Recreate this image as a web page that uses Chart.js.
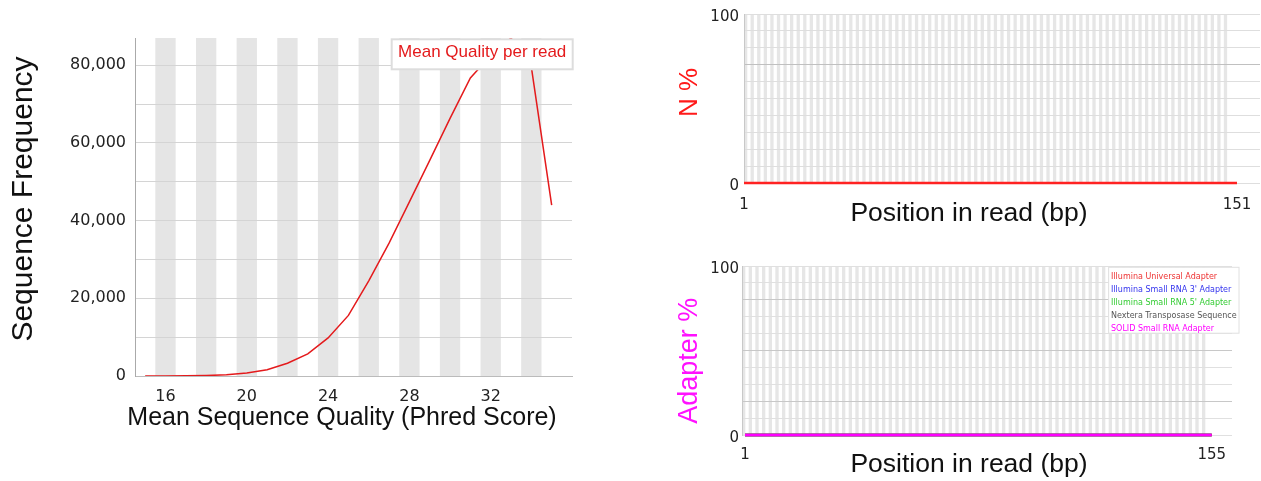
<!DOCTYPE html>
<html>
<head>
<meta charset="utf-8">
<title>Read quality</title>
<script src="https://cdn.jsdelivr.net/npm/chart.js@4.4.1/dist/chart.umd.min.js"></script>
<style>
  html, body { margin: 0; padding: 0; background: #fff; }
  body { width: 1261px; height: 481px; position: relative; overflow: hidden; }
  canvas { position: absolute; }
  #qualityChart { left: 0; top: 0; }
  #nChart { left: 640px; top: 0; }
  #adapterChart { left: 640px; top: 245px; }
</style>
</head>
<body>
<canvas id="qualityChart" width="600" height="440"></canvas>
<canvas id="nChart" width="621" height="240"></canvas>
<canvas id="adapterChart" width="621" height="236"></canvas>
<script>
// per sequence quality scores
var qualityScores = [15, 16, 17, 18, 19, 20, 21, 22, 23, 24, 25, 26, 27, 28, 29, 30, 31, 32, 33, 34, 35];
var qualityCounts = [0, 0, 50, 120, 300, 750, 1600, 3300, 5700, 9800, 15600, 24500, 34200, 44800, 55500, 66300, 76700, 82500, 87000, 79500, 44000];
var qualityTicks = [16, 20, 24, 28, 32];
var countTicks = [0, 10000, 20000, 30000, 40000, 50000, 60000, 70000, 80000];

// per base N content (151 bp reads)
var nPercent = [
  0, 0, 0, 0, 0, 0, 0, 0, 0, 0, 0, 0, 0, 0, 0, 0, 0, 0, 0, 0, 0, 0, 0, 0, 0,
  0, 0, 0, 0, 0, 0, 0, 0, 0, 0, 0, 0, 0, 0, 0, 0, 0, 0, 0, 0, 0, 0, 0, 0, 0,
  0, 0, 0, 0, 0, 0, 0, 0, 0, 0, 0, 0, 0, 0, 0, 0, 0, 0, 0, 0, 0, 0, 0, 0, 0,
  0, 0, 0, 0, 0, 0, 0, 0, 0, 0, 0, 0, 0, 0, 0, 0, 0, 0, 0, 0, 0, 0, 0, 0, 0,
  0, 0, 0, 0, 0, 0, 0, 0, 0, 0, 0, 0, 0, 0, 0, 0, 0, 0, 0, 0, 0, 0, 0, 0, 0,
  0, 0, 0, 0, 0, 0, 0, 0, 0, 0, 0, 0, 0, 0, 0, 0, 0, 0, 0, 0, 0, 0, 0, 0, 0,
  0
];
var nTicks = [1, 151];

// adapter content (155 positions), every adapter stays at 0 %
var adapterNames = ['Illumina Universal Adapter', "Illumina Small RNA 3' Adapter", "Illumina Small RNA 5' Adapter",
  'Nextera Transposase Sequence', 'SOLID Small RNA Adapter'];
var adapterPercent = [
  0, 0, 0, 0, 0, 0, 0, 0, 0, 0, 0, 0, 0, 0, 0, 0, 0, 0, 0, 0, 0, 0, 0, 0, 0,
  0, 0, 0, 0, 0, 0, 0, 0, 0, 0, 0, 0, 0, 0, 0, 0, 0, 0, 0, 0, 0, 0, 0, 0, 0,
  0, 0, 0, 0, 0, 0, 0, 0, 0, 0, 0, 0, 0, 0, 0, 0, 0, 0, 0, 0, 0, 0, 0, 0, 0,
  0, 0, 0, 0, 0, 0, 0, 0, 0, 0, 0, 0, 0, 0, 0, 0, 0, 0, 0, 0, 0, 0, 0, 0, 0,
  0, 0, 0, 0, 0, 0, 0, 0, 0, 0, 0, 0, 0, 0, 0, 0, 0, 0, 0, 0, 0, 0, 0, 0, 0,
  0, 0, 0, 0, 0, 0, 0, 0, 0, 0, 0, 0, 0, 0, 0, 0, 0, 0, 0, 0, 0, 0, 0, 0, 0,
  0, 0, 0, 0, 0
];
var adapterTicks = [1, 155];
var percentTicks = [0, 10, 20, 30, 40, 50, 60, 70, 80, 90, 100];
var percentLabels = [0, 100];

var adapterColors = ['#ee3333', '#3333ee', '#33cc33', '#555555', '#ff00ff'];
var sans = "'Liberation Sans', Arial, sans-serif";
var tickFamily = "'DejaVu Sans', Verdana, sans-serif";

// alternating grey bands behind the plot
function stripes(from, to, step, color) {
  return {
    id: 'stripes',
    beforeDraw: function(chart) {
      var ctx = chart.ctx, area = chart.chartArea, x = chart.scales.x;
      ctx.save();
      ctx.fillStyle = color;
      for (var v = from; v < to; v += step * 2) {
        var x0 = x.getPixelForValue(v), x1 = x.getPixelForValue(v + step);
        ctx.fillRect(x0, area.top, x1 - x0, area.bottom - area.top);
      }
      ctx.restore();
    }
  };
}

// white legend box in the top right corner of the plot
function boxLegend(o) {
  return {
    id: 'boxLegend',
    afterDatasetsDraw: function(chart) {
      var ctx = chart.ctx, area = chart.chartArea, sets = chart.data.datasets;
      ctx.save();
      ctx.font = o.size + 'px ' + o.family;
      var w = 0;
      sets.forEach(function(d) { w = Math.max(w, ctx.measureText(d.label).width); });
      var bw = w + o.padX * 2;
      var bh = o.first + (sets.length - 1) * o.lineHeight + o.last;
      var bx = area.right + o.right - bw, by = area.top + o.top;
      ctx.fillStyle = '#fff';
      ctx.fillRect(bx, by, bw, bh);
      ctx.strokeStyle = o.border;
      ctx.lineWidth = o.borderWidth;
      ctx.strokeRect(bx, by, bw, bh);
      ctx.textAlign = 'left';
      ctx.textBaseline = 'middle';
      sets.forEach(function(d, i) {
        ctx.fillStyle = d.borderColor;
        ctx.fillText(d.label, bx + o.padX, by + o.first + i * o.lineHeight);
      });
      ctx.restore();
    }
  };
}

// axis titles, placed like in the original figure
function titles(items) {
  return {
    id: 'titles',
    afterDraw: function(chart) {
      var ctx = chart.ctx;
      items.forEach(function(t) {
        ctx.save();
        ctx.translate(t.x, t.y);
        if (t.rotate) ctx.rotate(-Math.PI / 2);
        ctx.font = t.size + 'px ' + sans;
        ctx.fillStyle = t.color || '#111';
        ctx.textAlign = 'center';
        ctx.textBaseline = 'middle';
        ctx.fillText(t.text, 0, 0);
        ctx.restore();
      });
    }
  };
}

function fixedTicks(values) {
  return function(scale) {
    scale.ticks = values.map(function(v) { return { value: v }; });
  };
}

Chart.defaults.animation = false;
Chart.defaults.events = [];

new Chart(document.getElementById('qualityChart'), {
  type: 'line',
  data: {
    datasets: [{
      label: 'Mean Quality per read',
      data: qualityScores.map(function(s, i) { return { x: s, y: qualityCounts[i] }; }),
      borderColor: '#e41a1c',
      borderWidth: 1.5,
      pointRadius: 0,
      tension: 0
    }]
  },
  options: {
    responsive: false,
    layout: { padding: { top: 38, right: 28, left: 0, bottom: 0 } },
    plugins: { legend: { display: false }, tooltip: { enabled: false } },
    scales: {
      x: {
        type: 'linear', min: 14.5, max: 36,
        afterBuildTicks: fixedTicks(qualityTicks),
        afterFit: function(s) { s.height = 64; },
        grid: { display: false },
        border: { display: true, color: '#bbbbbb' },
        ticks: { font: { family: tickFamily, size: 16 }, color: '#222', padding: 3, maxRotation: 0 }
      },
      y: {
        min: 0, max: 87000,
        afterBuildTicks: fixedTicks(countTicks),
        afterFit: function(s) { s.width = 135; },
        grid: { color: '#d4d4d4', drawTicks: false },
        border: { color: '#aaaaaa' },
        ticks: {
          font: { family: tickFamily, size: 16 }, color: '#222', padding: 9, autoSkip: false,
          callback: function(v) { return v % 20000 === 0 ? v.toLocaleString('en-US') : ''; }
        }
      }
    }
  },
  plugins: [
    stripes(15.5, 34.6, 1, '#e5e5e5'),
    boxLegend({ size: 17, family: sans, padX: 6.4, first: 13.2, last: 16.8, lineHeight: 18,
      right: 0.7, top: 1.3, border: '#dddddd', borderWidth: 2 }),
    titles([
      { text: 'Sequence Frequency', x: 24, y: 199, size: 30, rotate: true },
      { text: 'Mean Sequence Quality (Phred Score)', x: 342, y: 418, size: 25 }
    ])
  ]
});

new Chart(document.getElementById('nChart'), {
  type: 'line',
  data: {
    datasets: [{
      label: 'N %',
      data: nPercent.map(function(v, i) { return { x: i + 1, y: v }; }),
      borderColor: '#ff2222',
      borderWidth: 2.5,
      pointRadius: 0,
      clip: false
    }]
  },
  options: {
    responsive: false,
    layout: { padding: { top: 14, right: 1, left: 0, bottom: 0 } },
    plugins: { legend: { display: false }, tooltip: { enabled: false } },
    scales: {
      x: {
        type: 'linear', min: 1, max: 158,
        afterBuildTicks: fixedTicks(nTicks),
        afterFit: function(s) { s.height = 57; },
        grid: { display: false },
        border: { display: false },
        ticks: { font: { family: tickFamily, size: 15 }, color: '#222', padding: 5, maxRotation: 0 }
      },
      y: {
        min: 0, max: 100,
        afterBuildTicks: fixedTicks(percentTicks),
        afterFit: function(s) { s.width = 104; },
        grid: {
          drawTicks: false,
          color: function(c) { return c.tick.value === 70 ? '#c0c0c0' : '#dedede'; }
        },
        border: { color: '#c8c8c8' },
        ticks: {
          font: { family: tickFamily, size: 15 }, color: '#222', padding: 5, labelOffset: 3, autoSkip: false,
          callback: function(v) { return percentLabels.indexOf(v) >= 0 ? v : ''; }
        }
      }
    }
  },
  plugins: [
    stripes(1, 148.5, 1, '#e6e6e6'),
    titles([
      { text: 'N %', x: 50, y: 92.5, size: 26, rotate: true, color: '#ff1a1a' },
      { text: 'Position in read (bp)', x: 329, y: 214, size: 26.5 }
    ])
  ]
});

new Chart(document.getElementById('adapterChart'), {
  type: 'line',
  data: {
    datasets: adapterNames.map(function(name, k) {
      return {
        label: name,
        data: adapterPercent.map(function(v, i) { return { x: i + 1, y: v }; }),
        borderColor: adapterColors[k],
        borderWidth: 2.5,
        pointRadius: 0,
        clip: false,
        order: k === adapterNames.length - 1 ? 0 : 1
      };
    })
  },
  options: {
    responsive: false,
    layout: { padding: { top: 21, right: 29, left: 0, bottom: 0 } },
    plugins: { legend: { display: false }, tooltip: { enabled: false } },
    scales: {
      x: {
        type: 'linear', min: 0, max: 161.7,
        afterBuildTicks: fixedTicks(adapterTicks),
        afterFit: function(s) { s.height = 46; },
        grid: { display: false },
        border: { display: false },
        ticks: { font: { family: tickFamily, size: 15 }, color: '#222', padding: 3, maxRotation: 0 }
      },
      y: {
        min: 0, max: 100,
        afterBuildTicks: fixedTicks(percentTicks),
        afterFit: function(s) { s.width = 102; },
        grid: {
          drawTicks: false,
          color: function(c) { return [20, 50, 80].indexOf(c.tick.value) >= 0 ? '#c8c8c8' : '#e0e0e0'; }
        },
        border: { color: '#c8c8c8' },
        ticks: {
          font: { family: tickFamily, size: 15 }, color: '#222', padding: 3, labelOffset: 3, autoSkip: false,
          callback: function(v) { return percentLabels.indexOf(v) >= 0 ? v : ''; }
        }
      }
    }
  },
  plugins: [
    stripes(0, 153, 1.1, '#e6e6e6'),
    boxLegend({ size: 8, family: tickFamily, padX: 2.4, first: 9.7, last: 4.6, lineHeight: 12.9,
      right: 7, top: 1.3, border: '#e0e0e0', borderWidth: 1 }),
    titles([
      { text: 'Adapter %', x: 50, y: 115.8, size: 27, rotate: true, color: '#ff11ff' },
      { text: 'Position in read (bp)', x: 329, y: 220, size: 26.5 }
    ])
  ]
});
</script>
</body>
</html>
